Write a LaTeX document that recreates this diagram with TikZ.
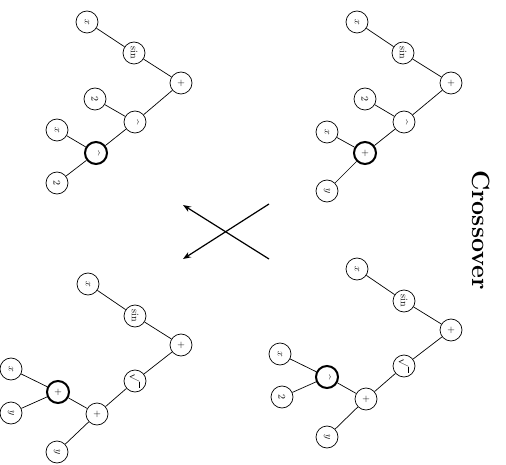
\documentclass[tikz,border=0pt]{standalone}
\usetikzlibrary{arrows.meta}
\newcommand{\pw}{\raisebox{-0.45ex}{\textasciicircum}}
\begin{document}
\begin{tikzpicture}[x=1pt,y=-1pt,
  tn/.style={circle,draw,line width=0.7pt,minimum size=22pt,inner sep=0pt,font=\fontsize{10}{11}\selectfont,rotate=-90},
  sel/.style={tn,line width=2pt},
  ed/.style={line width=0.7pt},
  xarr/.style={line width=1.2pt,-{Stealth[length=8pt,width=6pt]}}]
\useasboundingbox (0,0) rectangle (506,465);
% top-left tree
\node[tn] (a1) at (87,22) {$x$};
\node[tn] (a2) at (134,53) {sin};
\node[tn] (a3) at (181,83) {$+$};
\node[tn] (a4) at (95,99) {2};
\node[tn] (a5) at (135,122) {\pw};
\node[tn] (a6) at (57,130) {$x$};
\node[sel] (a7) at (96,153) {\pw};
\node[tn] (a8) at (57,183) {2};
\draw[ed] (a1)--(a2) (a2)--(a3) (a3)--(a5) (a4)--(a5) (a5)--(a7) (a6)--(a7) (a7)--(a8);
% top-right tree
\node[tn] (b1) at (357,22) {$x$};
\node[tn] (b2) at (403,53) {sin};
\node[tn] (b3) at (451,83) {$+$};
\node[tn] (b4) at (365,99) {2};
\node[tn] (b5) at (404,122) {\pw};
\node[tn] (b6) at (327,132) {$x$};
\node[sel] (b7) at (365,153) {$+$};
\node[tn] (b8) at (327,191) {$y$};
\draw[ed] (b1)--(b2) (b2)--(b3) (b3)--(b5) (b4)--(b5) (b5)--(b7) (b6)--(b7) (b7)--(b8);
% bottom-left tree
\node[tn] (c1) at (88,284) {$x$};
\node[tn] (c2) at (135,316) {sin};
\node[tn] (c3) at (181,345) {$+$};
\node[tn] (c4) at (135,381) {$\sqrt{\phantom{x}}$};
\node[tn] (c5) at (97,414) {$+$};
\node[sel] (c6) at (58,392) {$+$};
\node[tn] (c7) at (11,369) {$x$};
\node[tn] (c8) at (11,413) {$y$};
\node[tn] (c9) at (57,452) {$y$};
\draw[ed] (c1)--(c2) (c2)--(c3) (c3)--(c4) (c4)--(c5) (c5)--(c6) (c6)--(c7) (c6)--(c8) (c5)--(c9);
% bottom-right tree
\node[tn] (d1) at (357,269) {$x$};
\node[tn] (d2) at (404,301) {sin};
\node[tn] (d3) at (451,330) {$+$};
\node[tn] (d4) at (404,366) {$\sqrt{\phantom{x}}$};
\node[tn] (d5) at (366,399) {$+$};
\node[sel] (d6) at (327,377) {\pw};
\node[tn] (d7) at (280,354) {$x$};
\node[tn] (d8) at (282,397) {2};
\node[tn] (d9) at (327,437) {$y$};
\draw[ed] (d1)--(d2) (d2)--(d3) (d3)--(d4) (d4)--(d5) (d5)--(d6) (d6)--(d7) (d6)--(d8) (d5)--(d9);
% crossover arrows
\coordinate (p1) at (269,204);
\coordinate (q1) at (183,259);
\coordinate (p2) at (269,259);
\coordinate (q2) at (183,205);
\draw[xarr] (p1)--(q1);
\draw[xarr] (p2)--(q2);
% title
\node[rotate=-90,font=\fontsize{25}{30}\selectfont\bfseries] (t) at (481,230) {Crossover};
\end{tikzpicture}
\end{document}
